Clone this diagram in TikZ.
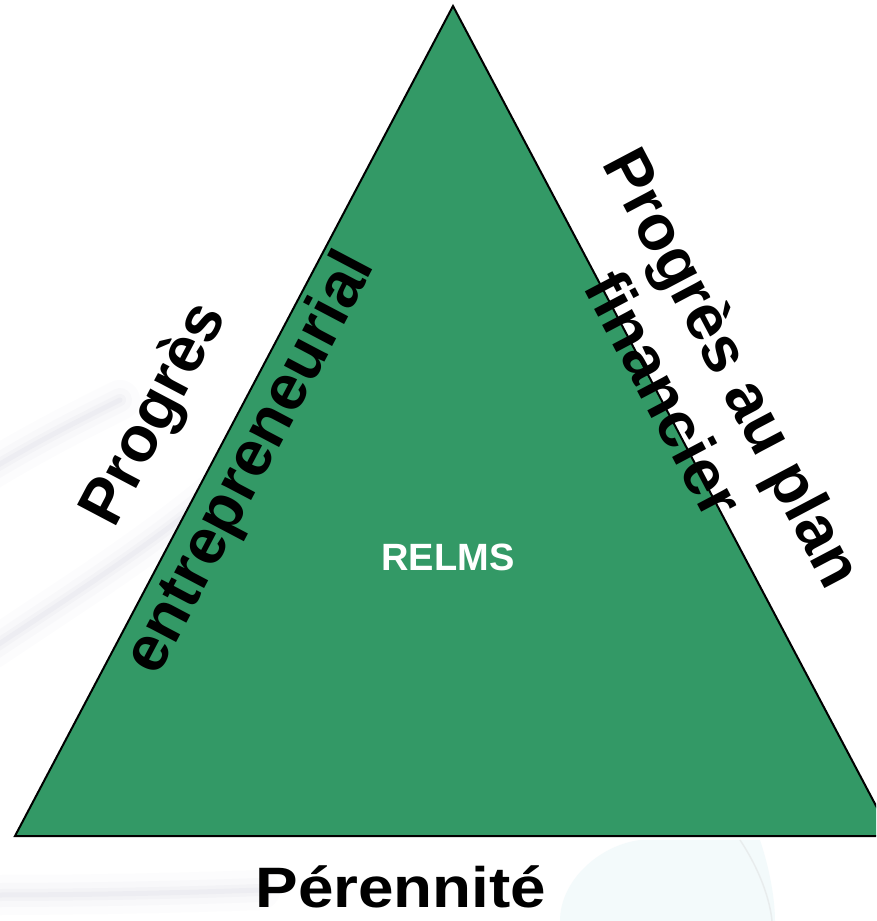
\documentclass[tikz,border=0pt]{standalone}
\usepackage{fontspec}
\setmainfont{Liberation Sans}
\definecolor{trigreen}{RGB}{51,153,102}
\definecolor{swoosh}{RGB}{150,150,185}
\definecolor{bubble}{RGB}{190,228,235}
\tikzset{
  sidelabel/.style={font=\fontsize{64}{70}\selectfont\bfseries, text=black, inner sep=0pt},
  baselabel/.style={font=\fontsize{57}{60}\selectfont\bfseries, text=black, inner sep=0pt, anchor=base, xscale=1.12},
  centerlabel/.style={font=\fontsize{38}{42}\selectfont\bfseries, text=white, inner sep=0pt, anchor=base},
  tri/.style={fill=trigreen, draw=black, line width=2pt, line join=miter}
}
\begin{document}
\begin{tikzpicture}[x=1pt,y=-1pt]
\useasboundingbox (0,0) rectangle (876,921);
\clip (0,0) rectangle (876,921);
\fill[white] (0,0) rectangle (876,921);
% faint background swooshes
\foreach \w/\o in {40/0.025,24/0.035,12/0.05,5/0.06}{
  \draw[swoosh, line width=\w pt, opacity=\o, line cap=round] (-10,650) .. controls (80,590) and (160,540) .. (240,470);
  \draw[swoosh, line width=\w pt, opacity=\o, line cap=round] (-10,470) .. controls (40,440) and (80,420) .. (120,400);
  \draw[swoosh, line width=\w pt, opacity=\o, line cap=round] (-10,895) .. controls (80,895) and (180,893) .. (260,890);
}
\fill[bubble, opacity=0.18] (560,921) .. controls (560,880) and (600,845) .. (640,840) -- (760,840) .. controls (770,870) and (775,900) .. (775,921) -- cycle;
\draw[gray!30, line width=1.5pt, opacity=0.4] (740,840) .. controls (760,870) and (770,900) .. (772,921);
% triangle
\coordinate (apex) at (453,6);
\coordinate (bl) at (15,836);
\coordinate (br) at (892,836);
\draw[tri] (apex) -- (bl) -- (br) -- cycle;
% labels
\node[sidelabel, rotate=62.2] (lp) at (156,415) {Progrès};
\node[sidelabel, rotate=62.2] (le) at (252,464) {entrepreneurial};
\node[sidelabel, rotate=-62.2] (rp) at (729,370) {Progrès au plan};
\node[sidelabel, rotate=-62.2] (rf) at (665,394) {financier};
\node[centerlabel] (relms) at (448,570) {RELMS};
\node[baselabel] (per) at (401,907) {Pérennité};
\end{tikzpicture}
\end{document}
